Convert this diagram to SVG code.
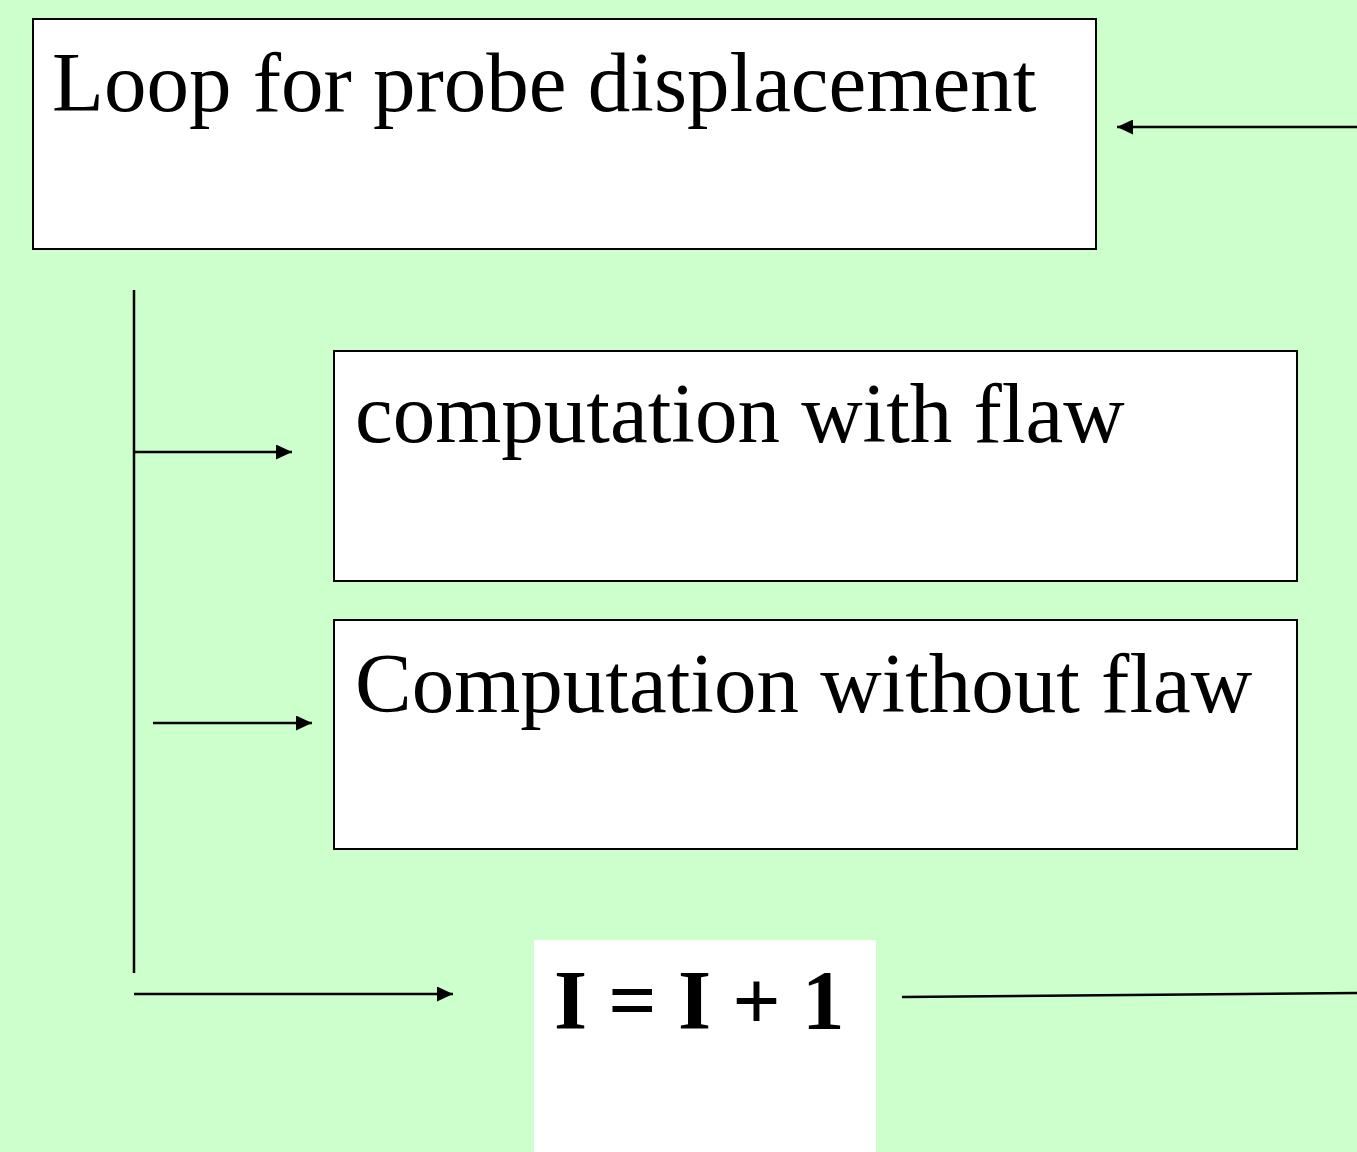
<svg xmlns="http://www.w3.org/2000/svg" width="1357" height="1152" viewBox="0 0 1357 1152">
<style>
.box{fill:#ffffff;stroke:#000000;stroke-width:2}
.lbl{font-family:"Liberation Serif","Times New Roman",serif;font-size:85px;fill:#000000}
.bold{font-weight:bold;font-size:85px}
.conn{stroke:#000000;stroke-width:2.5;fill:none}
</style>
<defs>
<marker id="ah" markerUnits="userSpaceOnUse" markerWidth="16" markerHeight="15" refX="16" refY="7.5" orient="auto">
<path d="M0,0 L16,7.5 L0,15 z" fill="#000000"/>
</marker>
</defs>
<rect x="0" y="0" width="1357" height="1152" fill="#ccffcc"/>
<g id="node-loop">
<rect class="box" x="33" y="19" width="1063" height="230"/>
<text class="lbl" x="52" y="111">Loop for probe displacement</text>
</g>
<g id="node-with-flaw">
<rect class="box" x="334" y="351" width="963" height="230"/>
<text class="lbl" x="355" y="442">computation with flaw</text>
</g>
<g id="node-without-flaw">
<rect class="box" x="334" y="620" width="963" height="229"/>
<text class="lbl" x="355" y="712">Computation without flaw</text>
</g>
<g id="node-increment">
<rect x="534" y="940" width="342" height="212" fill="#ffffff"/>
<text class="lbl bold" x="554" y="1029">I = I + 1</text>
</g>
<g id="connectors">
<line class="conn" x1="1357" y1="127" x2="1117" y2="127" marker-end="url(#ah)"/>
<line class="conn" x1="134" y1="290" x2="134" y2="973"/>
<line class="conn" x1="134" y1="452" x2="292" y2="452" marker-end="url(#ah)"/>
<line class="conn" x1="153" y1="723" x2="312" y2="723" marker-end="url(#ah)"/>
<line class="conn" x1="134" y1="994" x2="453" y2="994" marker-end="url(#ah)"/>
<line class="conn" x1="902" y1="997" x2="1357" y2="993"/>
</g>
</svg>
